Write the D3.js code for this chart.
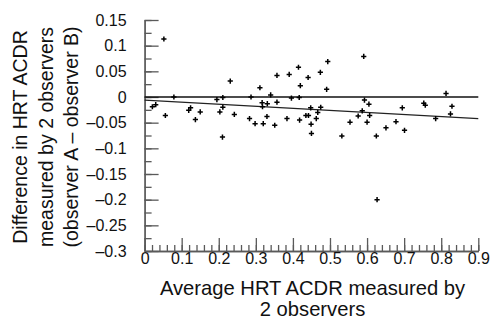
<!doctype html>
<html>
  <head>
    <meta charset="utf-8">
    <title>HRT ACDR agreement</title>
    <script type="text/javascript" src="https://d3js.org/d3.v7.min.js"></script>
    <style>
      body { margin: 0; background: #fff; }
      text { font-family: "Liberation Sans", Arial, sans-serif; fill: #111; }
    </style>
  </head>
  <body>
    <script>
      // average of the 2 observers (x) and difference A - B (y)
      const avgAcdr = [
        0.052, 0.021, 0.030, 0.056, 0.079, 0.119, 0.124, 0.137, 0.150, 0.195,
        0.211, 0.203, 0.211, 0.210, 0.231, 0.242, 0.283, 0.287, 0.298, 0.311,
        0.317, 0.318, 0.320, 0.331, 0.330, 0.340, 0.351, 0.357, 0.357, 0.384,
        0.390, 0.396, 0.415, 0.417, 0.420, 0.418, 0.435, 0.442, 0.441, 0.448,
        0.449, 0.450, 0.467, 0.463, 0.474, 0.475, 0.494, 0.491, 0.532, 0.554,
        0.576, 0.587, 0.591, 0.593, 0.600, 0.605, 0.607, 0.625, 0.627, 0.651,
        0.678, 0.695, 0.701, 0.753, 0.757, 0.785, 0.813, 0.825, 0.829
      ];
      const diffAcdr = [
        0.113, -0.019, -0.015, -0.036, 0.000, -0.026, -0.021, -0.044, -0.029, -0.005,
        -0.001, -0.029, -0.020, -0.078, 0.031, -0.034, -0.042, 0.000, -0.052, 0.018,
        -0.011, -0.019, -0.052, -0.013, -0.038, 0.004, -0.055, 0.042, -0.010, -0.042,
        0.044, -0.002, 0.058, -0.001, 0.022, -0.045, -0.036, -0.036, 0.038, -0.021,
        -0.053, -0.071, -0.030, -0.042, 0.048, -0.020, 0.069, 0.015, -0.076, -0.049,
        -0.037, -0.027, 0.079, -0.006, -0.049, -0.014, -0.036, -0.076, -0.200, -0.060,
        -0.048, -0.021, -0.065, -0.012, -0.016, -0.042, 0.007, -0.033, -0.018
      ];

      // fitted line of difference on average
      const regIntercept = -0.0062;
      const regSlope = -0.0398;

      const xTicks = [0, 0.1, 0.2, 0.3, 0.4, 0.5, 0.6, 0.7, 0.8, 0.9];
      const xTickLabels = ['0', '0.1', '0.2', '0.3', '0.4', '0.5', '0.6', '0.7', '0.8', '0.9'];
      const yTicks = [0.15, 0.1, 0.05, 0, -0.05, -0.1, -0.15, -0.2, -0.25, -0.3];
      const yTickLabels = ['0.15', '0.1', '0.05', '0', '\u20130.05', '\u20130.1', '\u20130.15', '\u20130.2', '\u20130.25', '\u20130.3'];

      const yTitle = ['Difference in HRT ACDR', 'measured by 2 observers', '(observer A \u2013 observer B)'];
      const xTitle = ['Average HRT ACDR measured by', '2 observers'];

      const svgWidth = 493;
      const svgHeight = 329;

      const svg = d3.select('body').append('svg')
          .attr('width', svgWidth)
          .attr('height', svgHeight);

      const x = d3.scaleLinear().domain([0, 0.9]).range([144.6, 478.3]);
      const y = d3.scaleLinear().domain([-0.3, 0.15]).range([251, 20]);

      const axisColor = '#5a5a5a';

      // minor ticks
      svg.append('g')
          .attr('transform', `translate(0, ${y(-0.3)})`)
          .call(d3.axisBottom(x).tickValues(d3.range(0, 0.91, 0.02)).tickSize(-6).tickSizeOuter(0).tickFormat(''));
      svg.append('g')
          .attr('transform', `translate(${x(0)}, 0)`)
          .call(d3.axisLeft(y).tickValues(d3.range(-0.3, 0.16, 0.025)).tickSize(-7).tickSizeOuter(0).tickFormat(''));

      // major ticks + labels
      svg.append('g')
          .attr('transform', `translate(0, ${y(-0.3)})`)
          .call(d3.axisBottom(x).tickValues(xTicks).tickSize(-13).tickSizeOuter(0).tickPadding(2)
            .tickFormat((d, i) => xTickLabels[i]));
      svg.append('g')
          .attr('transform', `translate(${x(0)}, 0)`)
          .call(d3.axisLeft(y).tickValues(yTicks).tickSize(-14).tickSizeOuter(0).tickPadding(18)
            .tickFormat((d, i) => yTickLabels[i]));

      svg.selectAll('.domain, .tick line')
          .attr('stroke', axisColor)
          .attr('stroke-width', 1.3);
      svg.selectAll('.tick text')
          .attr('font-size', 16)
          .attr('font-family', '"Liberation Sans", Arial, sans-serif')
          .attr('fill', '#111');

      // zero line and regression line
      svg.append('line')
          .attr('x1', x(0)).attr('x2', x(0.9))
          .attr('y1', y(0)).attr('y2', y(0))
          .attr('stroke', '#111')
          .attr('stroke-width', 1.3);

      svg.append('line')
          .attr('x1', x(0)).attr('x2', x(0.9))
          .attr('y1', y(regIntercept)).attr('y2', y(regIntercept + regSlope * 0.9))
          .attr('stroke', '#222')
          .attr('stroke-width', 1.3);

      // plus markers
      const pts = avgAcdr.map((a, i) => ({ a: a, d: diffAcdr[i] }));
      svg.append('g')
        .selectAll('path')
        .data(pts)
        .enter().append('path')
          .attr('d', d => {
            const cx = x(d.a), cy = y(d.d), r = 2.6;
            return `M${cx - r},${cy}H${cx + r}M${cx},${cy - r}V${cy + r}`;
          })
          .attr('stroke', '#000')
          .attr('stroke-width', 1.5)
          .attr('fill', 'none');

      // axis titles
      const yt = svg.append('text')
          .attr('transform', 'translate(0, 137) rotate(-90)')
          .attr('text-anchor', 'middle')
          .attr('font-size', 19.5);
      yTitle.forEach((t, i) => {
        yt.append('tspan').attr('x', 0).attr('y', [26.7, 52.5, 77.5][i]).text(t);
      });

      const xt = svg.append('text')
          .attr('text-anchor', 'middle')
          .attr('font-size', 20.2);
      xTitle.forEach((t, i) => {
        xt.append('tspan').attr('x', 312.5).attr('y', 295.3 + i * 20.4).text(t);
      });
    </script>
  </body>
</html>
